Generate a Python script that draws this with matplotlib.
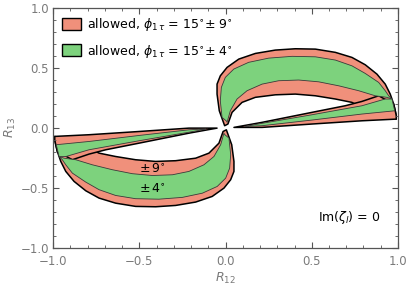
"""R12-R13 allowed regions for phi_1tau = 15° ± 9° and ± 4° (Im(zeta_l) = 0)"""

import matplotlib
matplotlib.use("Agg")
import matplotlib.pyplot as plt
import numpy as np
from matplotlib.patches import Polygon, Patch

# upper-right lobe (the lower-left lobe is its mirror through the origin)
# arc part of the +-9 deg band: outer edge and inner (hole) edge, tip -> right end
arc_out_x = [-0.005, -0.036, -0.049, -0.049, -0.030, 0.009, 0.077, 0.173, 0.289, 0.405,
             0.521, 0.637, 0.733, 0.810, 0.878, 0.926, 0.955, 0.975, 0.984, 0.990, 0.990]
arc_out_y = [0.017, 0.141, 0.280, 0.363, 0.432, 0.502, 0.571, 0.618, 0.646, 0.657,
             0.654, 0.627, 0.585, 0.524, 0.446, 0.363, 0.280, 0.197, 0.141, 0.100, 0.072]
arc_in_x = [0.014, 0.038, 0.096, 0.173, 0.289, 0.405, 0.521, 0.637, 0.733, 0.752, 0.896, 0.990]
arc_in_y = [0.031, 0.128, 0.211, 0.253, 0.274, 0.280, 0.266, 0.239, 0.211, 0.197, 0.147, 0.072]

# thin wedge part of the +-9 deg band, left tip -> right end
wedge_top_x = [0.049, 0.212, 0.501, 0.694, 0.791, 0.888, 0.975, 0.984, 0.990]
wedge_top_y = [0.003, 0.045, 0.128, 0.183, 0.219, 0.266, 0.197, 0.141, 0.100]
wedge_bot_x = [0.049, 0.212, 0.501, 0.791, 0.990]
wedge_bot_y = [0.003, 0.003, 0.031, 0.058, 0.072]

# +-4 deg band, arc part
g_arc_top_x = [0.006, -0.020, -0.030, -0.024, -0.001, 0.048, 0.134, 0.250, 0.386, 0.521,
               0.637, 0.733, 0.810, 0.888, 0.926, 0.946, 0.965]
g_arc_top_y = [0.055, 0.086, 0.224, 0.336, 0.419, 0.488, 0.544, 0.579, 0.594, 0.590,
               0.563, 0.515, 0.452, 0.377, 0.308, 0.266, 0.239]
g_arc_bot_x = [0.009, 0.028, 0.067, 0.125, 0.212, 0.308, 0.424, 0.540, 0.656, 0.772, 0.868, 0.936]
g_arc_bot_y = [0.045, 0.141, 0.239, 0.308, 0.363, 0.391, 0.397, 0.382, 0.349, 0.308, 0.266, 0.253]

# +-4 deg band, wedge part
g_wedge_top_x = [0.115, 0.212, 0.501, 0.791, 0.925, 0.965]
g_wedge_top_y = [0.012, 0.037, 0.108, 0.183, 0.239, 0.239]
g_wedge_bot_x = [0.115, 0.212, 0.501, 0.791, 0.981]
g_wedge_bot_y = [0.010, 0.017, 0.064, 0.114, 0.141]

ticks = [-1.0, -0.5, 0.0, 0.5, 1.0]
tick_labels = ["\u22121.0", "\u22120.5", "0.0", "0.5", "1.0"]

RED = "#F0907B"
GREEN = "#7DD27D"


def band(ax, top_x, top_y, bot_x, bot_y, sign, color, edge, lw):
    """closed polygon from one edge forward and the other edge backward"""
    xs = np.concatenate([top_x, bot_x[::-1]]) * sign
    ys = np.concatenate([top_y, bot_y[::-1]]) * sign
    ax.add_patch(Polygon(np.column_stack([xs, ys]), closed=True,
                         facecolor=color, edgecolor=edge, linewidth=lw, joinstyle="round"))


def lobe(ax, sign):
    a = np.array
    # +-9 deg
    band(ax, a(arc_out_x), a(arc_out_y), a(arc_in_x), a(arc_in_y), sign, RED, "black", 1.1)
    band(ax, a(wedge_top_x), a(wedge_top_y), a(wedge_bot_x), a(wedge_bot_y), sign, RED, "black", 1.1)
    # +-4 deg
    band(ax, a(g_arc_top_x), a(g_arc_top_y), a(g_arc_bot_x), a(g_arc_bot_y), sign, GREEN, "#3a3a3a", 0.6)
    band(ax, a(g_wedge_top_x), a(g_wedge_top_y), a(g_wedge_bot_x), a(g_wedge_bot_y), sign, GREEN, "#3a3a3a", 0.6)


def main():
    plt.rcParams["font.family"] = ["DejaVu Sans"]
    plt.rcParams["mathtext.fontset"] = "dejavusans"

    fig = plt.figure(figsize=(4.09, 2.90), dpi=100)
    ax = fig.add_axes([0.1296, 0.1448, 0.8435, 0.8293])

    lobe(ax, 1.0)
    lobe(ax, -1.0)

    ax.set_xlim(-1, 1)
    ax.set_ylim(-1, 1)
    ax.set_xticks(ticks)
    ax.set_xticklabels(tick_labels)
    ax.set_yticks(ticks)
    ax.set_yticklabels(tick_labels)
    ax.set_xticks(np.arange(-1, 1.001, 0.1), minor=True)
    ax.set_yticks(np.arange(-1, 1.001, 0.1), minor=True)
    ax.tick_params(which="both", direction="in", top=True, right=True,
                   colors="#555555", labelcolor="#7a7a7a", labelsize=8.5)
    ax.tick_params(axis="x", which="major", pad=5)
    ax.tick_params(axis="y", which="major", pad=3)
    ax.tick_params(which="major", length=4, width=0.8)
    ax.tick_params(which="minor", length=2, width=0.6)
    for sp in ax.spines.values():
        sp.set_color("#555555")
        sp.set_linewidth(0.9)

    ax.set_xlabel(r"$R_{12}$", color="#7a7a7a", fontsize=9, labelpad=2)
    ax.set_ylabel(r"$R_{13}$", color="#7a7a7a", fontsize=9, labelpad=2)

    # band labels
    ax.text(-0.425, -0.345, r"$\pm\,9^{\circ}$", fontsize=9, ha="center", va="center")
    ax.text(-0.425, -0.515, r"$\pm\,4^{\circ}$", fontsize=9, ha="center", va="center")
    ax.text(0.895, -0.745, r"Im($\zeta_l$) = 0", fontsize=9, ha="right", va="center")

    handles = [Patch(facecolor=RED, edgecolor="black", linewidth=1.0),
               Patch(facecolor=GREEN, edgecolor="black", linewidth=1.0)]
    labels = [r"allowed, $\phi_{1\,\tau}$ = 15$^{\circ}$$\pm$ 9$^{\circ}$",
              r"allowed, $\phi_{1\,\tau}$ = 15$^{\circ}$$\pm$ 4$^{\circ}$"]
    ax.legend(handles, labels, loc="upper left", frameon=False, fontsize=9,
              handlelength=1.5, handleheight=1.1, handletextpad=0.5,
              labelspacing=0.75, borderaxespad=0.3, bbox_to_anchor=(0.0, 1.0))

    fig.savefig("out.png", dpi=100)


if __name__ == "__main__":
    main()
